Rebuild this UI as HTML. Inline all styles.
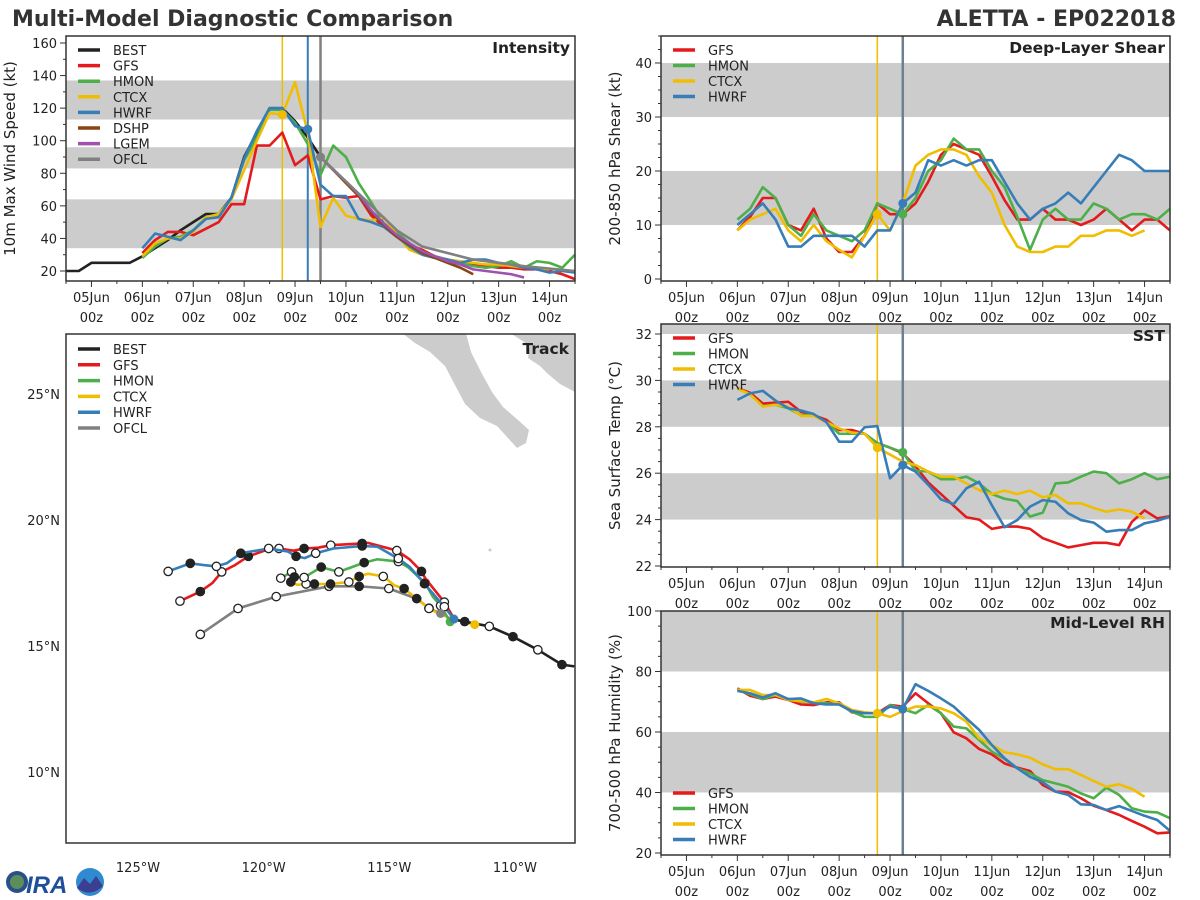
<!DOCTYPE html>
<html><head><meta charset="utf-8"><style>
html,body{margin:0;padding:0;background:#fff;}
svg{display:block;font-family:"DejaVu Sans","Liberation Sans",sans-serif;}
</style></head><body>
<svg id="s" width="1200" height="900" viewBox="0 0 1200 900">
<text x="12" y="26" font-size="22" font-weight="bold" fill="#333">Multi-Model Diagnostic Comparison</text>
<text x="1176" y="26" font-size="22" font-weight="bold" fill="#333" text-anchor="end">ALETTA - EP022018</text>
<g>
<circle cx="17" cy="882" r="11" fill="#2a4f8a"/><circle cx="17" cy="882" r="7" fill="#5b8f5a"/>
<text x="26" y="893" font-size="24" font-weight="bold" fill="#1f4f9a" font-style="italic" font-family="Liberation Sans">IRA</text>
<circle cx="90" cy="882" r="14" fill="#2f8ad0"/><path d="M77,888 L84,878 L90,884 L96,876 L103,886 Q90,898 77,888Z" fill="#3b3f90"/>
</g>
</svg>
<script>
// time: hours since 04Jun 12z; model series start at 06Jun 00z (36h), 6-hourly
const dayLabels=["05Jun","06Jun","07Jun","08Jun","09Jun","10Jun","11Jun","12Jun","13Jun","14Jun"];
const intBEST=[20,20,25,25,25,25,29,34,39,45,50,55,55,65,90,105,120,120,112,102,90];
const intGFS=[31,39,44,44,42,46,50,61,61,97,97,105,85,91,64,66,65,66,54,47,41,36,33,29,27,25,24,23,22,22,21,21,20,18,15];
const intHMON=[28,35,40,41,45,53,54,65,88,102,119,119,111,98,79,97,90,74,62,49,44,37,32,29,27,25,23,22,23,26,22,26,25,22,30];
const intCTCX=[29,37,40,40,44,53,55,64,82,100,117,116,136,105,47,65,54,52,51,53,42,33,30,28,27,26,25,24,24,23,22,22,21];
const intHWRF=[34,43,41,39,45,52,53,65,89,106,120,120,109,107,73,66,66,52,50,47,41,35,30,28,27,25,27,27,25,24,22,21,19,20,19];
const intDSHP=[90,82,74,66,56,48,41,36,31,28,25,22,18];
const intLGEM=[90,82,75,67,57,49,42,37,32,29,26,24,21,20,19,18,16];
const intOFCLt=[120,132,144,156,168,192,216,240];
const intOFCL=[90,75,60,45,35,27,23,20];
const shGFS=[9,11.5,15,15,10,9,13,7.5,5,5,8,14,12,12,14,18,23,25,24,23,19,14.6,11,11,13,11,11,10,11,13,11,9,11,11,9];
const shHMON=[11,13,17,15,10,8,12,9,8,7,9,14,13,12,15,20,22,26,24,24,20,17,11.5,5.4,11,13,11,11,14,13,11,12,12,11,13];
const shCTCX=[9,11,12,13,9,7,10,7,5.4,4,8,12,9,14,21,23,24,24,23,19,16,10,6,5,5,6,6,8,8,9,9,8,9];
const shHWRF=[10,12,14,11,6,6,8,8,8,8,6,9,9,14,16,22,21,22,21,22,22,18,14,11,13,14,16,14,17,20,23,22,20,20,20];
const sstGFS=[29.66,29.47,29.0,29.04,29.08,28.65,28.5,28.3,27.86,27.86,27.7,27.3,27.1,26.86,26.3,25.6,25.1,24.6,24.1,24.0,23.6,23.7,23.7,23.6,23.2,23.0,22.8,22.9,23.0,23.0,22.9,23.9,24.4,24.05,24.15];
const sstHMON=[29.66,29.4,28.9,28.95,28.8,28.5,28.5,28.2,27.7,27.7,27.7,27.3,27.1,26.9,26.1,26.07,25.74,25.74,25.85,25.56,25.1,24.9,24.8,24.13,24.3,25.56,25.6,25.85,26.07,26.0,25.56,25.74,26.0,25.74,25.85];
const sstCTCX=[29.66,29.4,28.87,28.95,28.87,28.47,28.47,28.2,27.93,27.75,27.7,27.1,26.8,26.5,26.35,26.07,25.85,25.85,25.56,25.27,25.1,25.25,25.1,25.25,24.96,25.06,24.7,24.7,24.5,24.34,24.44,24.34,24.05];
const sstHWRF=[29.16,29.44,29.55,29.13,28.8,28.7,28.55,28.2,27.36,27.36,27.98,28.03,25.78,26.35,26.07,25.5,24.87,24.67,25.35,25.63,24.62,23.67,23.98,24.56,24.84,24.77,24.27,23.98,23.87,23.48,23.55,23.55,23.84,23.95,24.13];
const rhGFS=[74.4,72,70.9,71.7,70.6,69.1,68.9,69.8,69.8,66.5,66.2,66.2,68.9,68.4,72.8,69.5,66.2,59.9,57.9,54.4,52.6,49.6,48.2,47.1,42.5,40.3,40.1,38.1,35.6,34.2,32.6,30.6,28.7,26.5,26.8];
const rhHMON=[73.9,72.5,70.9,72.2,70.9,70,69.8,69.5,69.1,66.7,65,65,68.9,67.6,66.2,68.9,66.2,61.8,61.2,57.4,53.5,51.1,48,46.3,44.1,43,41.9,39.7,38.1,41.6,39.2,34.8,33.7,33.4,31.5];
const rhCTCX=[73.9,73.9,72.2,72.2,70.6,70.2,69.8,70.9,69.5,67.3,66.5,66.2,65,66.9,68.4,68.4,67.8,66.2,63.4,57.9,55.7,53.3,52.6,51.5,49.3,47.7,47.7,45.8,43.8,41.9,42.7,41.2,38.6];
const rhHWRF=[73.6,72.8,71.4,72.8,70.9,71.1,69.5,69.1,69.1,66.9,66.2,66.2,68.4,67.6,75.8,73.6,71.1,68.4,64.5,60.7,55.7,51.3,48,45.2,43.4,40.3,39.2,36.1,35.9,34.2,35.5,33.9,32.3,30.9,27.3];
// track positions: [lon, lat, marker] marker: 1 filled, 0 open, -1 none
const trkBEST=[[-112.36,16.04,-1],[-112.0,15.97,1],[-111.02,15.78,0],[-110.08,15.37,1],[-109.09,14.85,0],[-108.13,14.26,1],[-107.64,14.19,-1]];
const trkGFS=[[-123.33,16.78,0],[-122.52,17.16,1],[-122.04,17.5,-1],[-121.67,17.94,0],[-121.14,18.21,-1],[-120.61,18.56,1],[-119.8,18.84,-1],[-119.39,18.87,0],[-118.81,18.78,-1],[-118.39,18.87,1],[-117.83,18.9,-1],[-117.33,19.0,0],[-116.08,19.07,1],[-115.85,19.09,-1],[-114.7,18.79,0],[-114.18,18.43,-1],[-113.72,17.96,1],[-113.57,17.69,-1],[-112.81,16.74,0],[-112.46,16.15,-1],[-112.36,16.04,-1]];
const trkHMON=[[-119.32,17.69,0],[-118.89,17.94,0],[-118.78,17.74,1],[-118.39,17.72,0],[-117.71,18.13,1],[-117.01,17.94,0],[-116.0,18.31,1],[-115.47,18.44,-1],[-114.64,18.35,0],[-114.26,18.13,-1],[-113.57,17.5,1],[-113.27,16.96,-1],[-112.96,16.6,0],[-112.58,15.96,-1],[-112.43,16.07,-1]];
const trkCTCX=[[-118.92,17.54,1],[-118.66,17.43,-1],[-118.31,17.46,0],[-117.98,17.46,1],[-117.34,17.46,1],[-116.61,17.54,0],[-116.2,17.76,1],[-115.85,17.87,-1],[-115.24,17.76,0],[-114.79,17.4,-1],[-114.41,17.28,1],[-113.91,16.88,1],[-113.42,16.49,0],[-112.96,16.25,-1],[-112.36,16.04,-1],[-111.6,15.85,-1]];
const trkHWRF=[[-123.8,17.96,0],[-122.92,18.28,1],[-122.39,18.21,-1],[-121.88,18.16,0],[-121.47,18.28,-1],[-120.91,18.68,1],[-119.8,18.87,0],[-119.04,18.75,-1],[-118.71,18.56,1],[-118.36,18.49,-1],[-117.93,18.68,0],[-117.22,18.87,-1],[-116.08,18.97,1],[-115.47,18.94,-1],[-114.64,18.47,0],[-114.18,18.13,-1],[-113.6,17.47,1],[-112.81,16.56,0],[-112.43,16.07,-1]];
const trkOFCL=[[-122.52,15.46,0],[-121.02,16.49,0],[-119.5,16.96,0],[-117.4,17.37,0],[-116.2,17.37,1],[-115.02,17.28,0],[-113.91,16.88,-1],[-113.42,16.5,0],[-112.96,16.29,-1]];

const C={BEST:"#222222",GFS:"#e41a1c",HMON:"#4daf4a",CTCX:"#f0bd00",HWRF:"#377eb8",DSHP:"#8b4513",LGEM:"#a050b0",OFCL:"#808080"};
const NS="http://www.w3.org/2000/svg";
const svg=document.getElementById("s");
function el(tag,attrs,parent){const e=document.createElementNS(NS,tag);for(const k in attrs)e.setAttribute(k,attrs[k]);(parent||svg).appendChild(e);return e;}
function txt(s,attrs,parent){const e=el("text",attrs,parent);e.textContent=s;return e;}

function makePanel(p){
  const g=el("g",{});
  
  
  p.g=g;
  p.y=v=>p.py0-(v-p.v0)*p.k;
  p.x=t=>p.L+t/240*(p.R-p.L);
  for(const b of p.bands){
    const y1=Math.max(p.T,p.y(b[1])),y2=Math.min(p.B,p.y(b[0]));
    const r=el("rect",{x:p.L,y:y1,width:p.R-p.L,height:y2-y1,fill:"#cccccc"},g);
    
    
  }
  return g;
}
function frameAxes(p){
  const g=p.g;
  const fr=el("rect",{x:p.L,y:p.T,width:p.R-p.L,height:p.B-p.T,fill:"none",stroke:"#333","stroke-width":1.5},g);
  
  
  for(let h=0;h<=240;h+=12){
    const major=(h-12)%24===0;
    const x=p.x(h);
    el("line",{x1:x,x2:x,y1:p.B,y2:p.B+(major?6:3),stroke:"#333","stroke-width":1},g);
  }
  dayLabels.forEach((d,i)=>{
    const x=p.x(12+24*i);
    const t1=txt(d,{x:x,y:p.B+21,"font-size":13,fill:"#222","text-anchor":"middle"},g);
    
    
    const t2=txt("00z",{x:x,y:p.B+41,"font-size":13,fill:"#222","text-anchor":"middle"},g);
    
    
  });
  for(let v=p.ticks[0];v<=p.ticks[1]+1e-6;v+=p.minor){
    const y=p.y(v); if(y<p.T-0.5||y>p.B+0.5)continue;
    const isMaj=Math.abs(((v-p.ticks[0])/p.ticks[2])-Math.round((v-p.ticks[0])/p.ticks[2]))<1e-6;
    el("line",{x1:p.L-(isMaj?6:3),x2:p.L,y1:y,y2:y,stroke:"#333","stroke-width":1},g);
    if(isMaj){
      const t=txt(String(Math.round(v)),{x:p.L-9,y:y+5,"font-size":13,fill:"#222","text-anchor":"end"},g);
      
      
    }
  }
  const cy=(p.T+p.B)/2;
  const yl=txt(p.ylabel,{x:p.ylx,y:cy,"font-size":15,fill:"#222","text-anchor":"middle",transform:`rotate(-90 ${p.ylx} ${cy})`},g);
  
  
  const tt=txt(p.title,{x:p.R-5,y:p.T+17,"font-size":15.5,"font-weight":"bold",fill:"#222","text-anchor":"end"},g);
  
  
}
function vline(p,h,color,w){
  const l=el("line",{x1:p.x(h),x2:p.x(h),y1:p.T,y2:p.B,stroke:color,"stroke-width":w},p.g);
  
  
}
function series(p,vals,t0,color,name,times){
  const pts=vals.map((v,i)=>[p.x(times?times[i]:t0+6*i),p.y(v)]);
  const pl=el("polyline",{points:pts.map(q=>q.join(",")).join(" "),fill:"none",stroke:color,"stroke-width":2.6,"stroke-linejoin":"round"},p.g);
  
  
}
function dot(p,h,v,color){
  const c=el("circle",{cx:p.x(h),cy:p.y(v),r:4.5,fill:color},p.g);
  
  
}
function legend(g,x,y,names,dy){
  names.forEach((n,i)=>{
    const yy=y+i*dy;
    const l=el("line",{x1:x,x2:x+22,y1:yy,y2:yy,stroke:C[n],"stroke-width":3.5},g);
    
    
    const t=txt(n,{x:x+35,y:yy+5,"font-size":13,fill:"#222"},g);
    
    
  });
}

// Intensity
const P1={name:"intensity-panel",L:66,T:36,R:575,B:281,v0:20,py0:271,k:1.6286,bands:[[34,64],[83,96],[113,137]],ticks:[20,160,20],minor:10,ylabel:"10m Max Wind Speed (kt)",ylx:15,title:"Intensity"};
makePanel(P1);
vline(P1,102,"#f0bd00",1.5);vline(P1,114,"#377eb8",2);vline(P1,120,"#808080",2.5);
series(P1,intBEST,0,C.BEST,"best-line");
series(P1,intGFS,36,C.GFS,"gfs-line");
series(P1,intHMON,36,C.HMON,"hmon-line");
series(P1,intCTCX,36,C.CTCX,"ctcx-line");
series(P1,intHWRF,36,C.HWRF,"hwrf-line");
series(P1,intDSHP,120,C.DSHP,"dshp-line");
series(P1,intLGEM,120,C.LGEM,"lgem-line");
series(P1,intOFCL,0,C.OFCL,"ofcl-line",intOFCLt);
dot(P1,102,intCTCX[11],C.CTCX);dot(P1,114,intHWRF[13],C.HWRF);dot(P1,120,intOFCL[0],C.OFCL);
frameAxes(P1);
legend(P1.g,78,50,["BEST","GFS","HMON","CTCX","HWRF","DSHP","LGEM","OFCL"],15.6);

// Shear
const P2={name:"shear-panel",L:661,T:36,R:1170,B:281,v0:0,py0:279,k:5.4,bands:[[10,20],[30,40]],ticks:[0,45,10],minor:2.5,ylabel:"200-850 hPa Shear (kt)",ylx:620,title:"Deep-Layer Shear"};
makePanel(P2);
vline(P2,102,"#f0bd00",1.5);vline(P2,114,"#6f7f8f",2.5);
series(P2,shGFS,36,C.GFS,"gfs-line");series(P2,shHMON,36,C.HMON,"hmon-line");
series(P2,shCTCX,36,C.CTCX,"ctcx-line");series(P2,shHWRF,36,C.HWRF,"hwrf-line");
dot(P2,102,shCTCX[11],C.CTCX);dot(P2,114,shHMON[13],C.HMON);dot(P2,114,shHWRF[13],C.HWRF);
frameAxes(P2);
legend(P2.g,673,50,["GFS","HMON","CTCX","HWRF"],15.5);

// SST
const P3={name:"sst-panel",L:661,T:324,R:1170,B:567,v0:22,py0:566,k:23.2,bands:[[24,26],[28,30],[32,34]],ticks:[22,32,2],minor:0.5,ylabel:"Sea Surface Temp (°C)",ylx:620,title:"SST"};
makePanel(P3);
vline(P3,102,"#f0bd00",1.5);vline(P3,114,"#6f7f8f",2.5);
series(P3,sstGFS,36,C.GFS,"gfs-line");series(P3,sstHMON,36,C.HMON,"hmon-line");
series(P3,sstCTCX,36,C.CTCX,"ctcx-line");series(P3,sstHWRF,36,C.HWRF,"hwrf-line");
dot(P3,102,sstCTCX[11],C.CTCX);dot(P3,114,sstHMON[13],C.HMON);dot(P3,114,sstHWRF[13],C.HWRF);
frameAxes(P3);
legend(P3.g,673,338,["GFS","HMON","CTCX","HWRF"],15.5);

// RH
const P4={name:"rh-panel",L:661,T:611,R:1170,B:855,v0:20,py0:853,k:3.025,bands:[[40,60],[80,100]],ticks:[20,100,20],minor:5,ylabel:"700-500 hPa Humidity (%)",ylx:620,title:"Mid-Level RH"};
makePanel(P4);
vline(P4,102,"#f0bd00",1.5);vline(P4,114,"#6f7f8f",2.5);
series(P4,rhGFS,36,C.GFS,"gfs-line");series(P4,rhHMON,36,C.HMON,"hmon-line");
series(P4,rhCTCX,36,C.CTCX,"ctcx-line");series(P4,rhHWRF,36,C.HWRF,"hwrf-line");
dot(P4,102,rhCTCX[11],C.CTCX);dot(P4,114,rhHWRF[13],C.HWRF);
frameAxes(P4);
legend(P4.g,673,793,["GFS","HMON","CTCX","HWRF"],15.5);

// Track
const TP={L:66,T:334,R:575,B:843};
const lonX=lon=>138+(lon+125)*25.13;
const latY=lat=>520-(lat-20)*25.2;
const tg=el("g",{});


const cp=el("clipPath",{id:"tclip"},tg);el("rect",{x:TP.L,y:TP.T,width:TP.R-TP.L,height:TP.B-TP.T},cp);
const land=el("g",{"clip-path":"url(#tclip)"},tg);


el("polygon",{points:"398,330 415,343 430,352 445,366 455,385 465,404 480,418 497,426 508,438 517,448 526,443 529,430 518,420 503,407 492,392 481,372 471,352 465,330",fill:"#cccccc"},land);
el("polygon",{points:"505,330 518,338 530,346 528,358 540,366 548,374 560,384 575,392 580,394 580,330",fill:"#cccccc"},land);
el("circle",{cx:490,cy:550,r:1.5,fill:"#cccccc"},land);
function track(arr,color,name){
  const pts=arr.map(q=>lonX(q[0]).toFixed(1)+","+latY(q[1]).toFixed(1)).join(" ");
  const pl=el("polyline",{points:pts,fill:"none",stroke:color,"stroke-width":2.6,"stroke-linejoin":"round","clip-path":"url(#tclip)"},tg);
  
  
  arr.forEach(q=>{
    if(q[2]<0)return;
    const c=el("circle",{cx:lonX(q[0]),cy:latY(q[1]),r:4.2,fill:q[2]?"#222":"#fff",stroke:"#222","stroke-width":1.3},tg);
    
    
  });
}
track(trkOFCL,C.OFCL,"ofcl-track");
track(trkCTCX,C.CTCX,"ctcx-track");
track(trkHMON,C.HMON,"hmon-track");
track(trkGFS,C.GFS,"gfs-track");
track(trkHWRF,C.HWRF,"hwrf-track");
track(trkBEST,C.BEST,"best-track");
[[trkCTCX[trkCTCX.length-1],C.CTCX],[trkOFCL[trkOFCL.length-1],C.OFCL],[trkHMON[trkHMON.length-2],C.HMON],[trkHWRF[trkHWRF.length-1],C.HWRF]].forEach(a=>{
  const c=el("circle",{cx:lonX(a[0][0]),cy:latY(a[0][1]),r:4.5,fill:a[1]},tg);
  
  
});
const tf=el("rect",{x:TP.L,y:TP.T,width:TP.R-TP.L,height:TP.B-TP.T,fill:"none",stroke:"#333","stroke-width":1.5},tg);


const lonTicks=[-125,-120,-115,-110];
const latTicks=[25,20,15,10];
lonTicks.forEach(l=>{
  const t=txt(Math.abs(l)+"°W",{x:lonX(l),y:872,"font-size":13,fill:"#222","text-anchor":"middle"},tg);
  
  
});
latTicks.forEach(l=>{
  const t=txt(l+"°N",{x:60,y:latY(l)+5,"font-size":13,fill:"#222","text-anchor":"end"},tg);
  
  
});
const ttl=txt("Track",{x:TP.R-6,y:TP.T+20,"font-size":15.5,"font-weight":"bold",fill:"#222","text-anchor":"end"},tg);


legend(tg,78,349,["BEST","GFS","HMON","CTCX","HWRF","OFCL"],15.8);
</script>
</body></html>
